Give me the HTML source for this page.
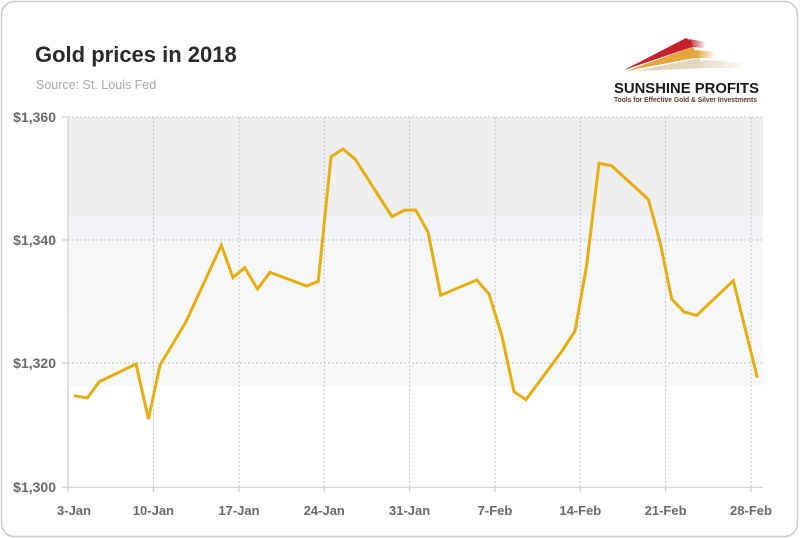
<!DOCTYPE html>
<html><head><meta charset="utf-8"><style>
html,body{margin:0;padding:0;background:#fff;}
svg{display:block;}
</style></head><body>
<svg width="800" height="538" viewBox="0 0 800 538" xmlns="http://www.w3.org/2000/svg">
<defs>
<linearGradient id="fr" x1="0" x2="1" y1="0" y2="0"><stop offset="0" stop-color="#c8202e"/><stop offset="1" stop-color="#c8202e" stop-opacity="0"/></linearGradient>
<linearGradient id="fo" x1="0" x2="1" y1="0" y2="0"><stop offset="0" stop-color="#e3a63a"/><stop offset="1" stop-color="#e3a63a" stop-opacity="0"/></linearGradient>
<linearGradient id="fb" x1="0" x2="1" y1="0" y2="0"><stop offset="0" stop-color="#e6dcc6"/><stop offset="1" stop-color="#e6dcc6" stop-opacity="0"/></linearGradient>
</defs>
<rect x="1.5" y="1.5" width="796" height="535" rx="13" ry="13" fill="#fff" stroke="#c9c9c9" stroke-width="1.5"/>
<text x="35" y="62" font-family="Liberation Sans, sans-serif" font-weight="bold" font-size="22" fill="#2a2a2a">Gold prices in 2018</text>
<text x="36" y="89" font-family="Liberation Sans, sans-serif" font-size="12.5" fill="#aaaaaa">Source: St. Louis Fed</text>
<!-- logo -->
<polygon points="624,70 686,38 691,41 693,47 689,48" fill="#c8202e"/>
<polygon points="689,39 706,42 704,48 692,47" fill="url(#fr)"/>
<polygon points="626,71 692,47 697,52 699,58 694,58" fill="#e3a63a"/>
<polygon points="696,50 716,52 712,58 699,58" fill="url(#fo)"/>
<polygon points="636,71 699,58 703,64 704,68" fill="#e2d6bd"/>
<polygon points="702,60 748,63 740,68 704,68" fill="url(#fb)"/>
<text x="614" y="93" font-family="Liberation Sans, sans-serif" font-weight="bold" font-size="14.5" fill="#1a1a1a" textLength="145" lengthAdjust="spacingAndGlyphs">SUNSHINE PROFITS</text>
<text x="614" y="102" font-family="Liberation Sans, sans-serif" font-weight="bold" font-size="7.5" fill="#5a3a2a" textLength="143" lengthAdjust="spacingAndGlyphs">Tools for Effective Gold &amp; Silver Investments</text>
<!-- bands -->
<rect x="68" y="117" width="695" height="99" fill="#efefef"/>
<rect x="68" y="216" width="695" height="24" fill="#f2f4f8"/>
<rect x="68" y="240" width="695" height="75" fill="#f7f7f7"/>
<rect x="68" y="315" width="695" height="71" fill="#f6f9f6"/>
<!-- horizontal grid -->
<g stroke="#c4c4c4" stroke-width="1" stroke-dasharray="2,2">
<line x1="68" y1="117" x2="763" y2="117"/>
<line x1="68" y1="240" x2="763" y2="240"/>
<line x1="68" y1="363" x2="763" y2="363"/>
</g>
<!-- vertical grid -->
<g stroke="#c4c4c4" stroke-width="1" stroke-dasharray="2,2">
<line x1="153.4" y1="117" x2="153.4" y2="487"/>
<line x1="239" y1="117" x2="239" y2="487"/>
<line x1="324.3" y1="117" x2="324.3" y2="487"/>
<line x1="409.6" y1="117" x2="409.6" y2="487"/>
<line x1="495" y1="117" x2="495" y2="487"/>
<line x1="580.3" y1="117" x2="580.3" y2="487"/>
<line x1="665.6" y1="117" x2="665.6" y2="487"/>
<line x1="751" y1="117" x2="751" y2="487"/>
</g>
<g stroke="#cfcfcf" stroke-width="1.2">
<line x1="68" y1="117" x2="68" y2="492"/>
<line x1="62" y1="487.3" x2="763" y2="487.3"/>
<line x1="62" y1="117" x2="68" y2="117"/>
<line x1="62" y1="240" x2="68" y2="240"/>
<line x1="62" y1="363" x2="68" y2="363"/>
<line x1="153.4" y1="487" x2="153.4" y2="492"/>
<line x1="239" y1="487" x2="239" y2="492"/>
<line x1="324.3" y1="487" x2="324.3" y2="492"/>
<line x1="409.6" y1="487" x2="409.6" y2="492"/>
<line x1="495" y1="487" x2="495" y2="492"/>
<line x1="580.3" y1="487" x2="580.3" y2="492"/>
<line x1="665.6" y1="487" x2="665.6" y2="492"/>
<line x1="751" y1="487" x2="751" y2="492"/>
</g>
<g font-family="Liberation Sans, sans-serif" font-weight="bold" font-size="14" fill="#6a6a6a" text-anchor="end">
<text x="56" y="122">$1,360</text>
<text x="56" y="245">$1,340</text>
<text x="56" y="368">$1,320</text>
<text x="56" y="492">$1,300</text>
</g>
<g font-family="Liberation Sans, sans-serif" font-weight="bold" font-size="13" fill="#6a6a6a" text-anchor="middle">
<text x="74" y="515">3-Jan</text>
<text x="153.4" y="515">10-Jan</text>
<text x="239" y="515">17-Jan</text>
<text x="324.3" y="515">24-Jan</text>
<text x="409.6" y="515">31-Jan</text>
<text x="495" y="515">7-Feb</text>
<text x="580.3" y="515">14-Feb</text>
<text x="665.6" y="515">21-Feb</text>
<text x="751" y="515">28-Feb</text>
</g>
<polyline fill="none" stroke="#e8ad10" stroke-width="3" stroke-linejoin="miter" stroke-miterlimit="4" points="74,395.7 87.3,398 99.3,381.7 136,364 148.5,419 160,365 172.7,344 186,321.7 221.3,245.3 233,277.7 244.7,267.7 257.5,289 270,272.3 306.7,286 318.3,281.3 331,156.7 343,149 355.3,159.3 392,216.7 404,210.3 415.7,210 428,232 440.7,295.2 476.7,280 489,294 501.7,335 514,391.7 526,399.7 562.7,350 575,331 586.7,265 599,163.3 611.5,165.7 648.3,199.3 660,241.7 671.7,299 684.3,312 696.7,315.3 733.3,280.7 757.3,377.7"/>
</svg>
</body></html>
